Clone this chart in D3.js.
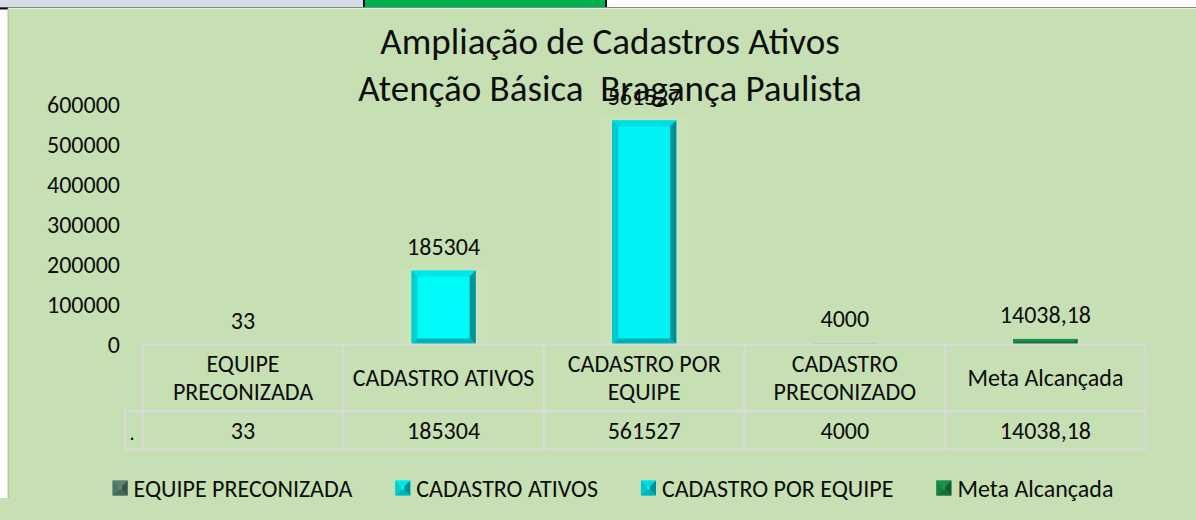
<!DOCTYPE html>
<html>
<head>
<meta charset="utf-8">
<script src="https://cdn.jsdelivr.net/npm/d3@7"></script>
<style>
  body { margin: 0; background: #fff; }
  svg { display: block; font-family: Carlito, Lato, sans-serif; }
</style>
</head>
<body>
<svg id="chart" width="1196" height="520"></svg>
<script>
// chart data
const titleLines = ["Ampliação de Cadastros Ativos", "Atenção Básica  Bragança Paulista"]
const categories = ["EQUIPE PRECONIZADA", "CADASTRO ATIVOS", "CADASTRO POR EQUIPE", "CADASTRO PRECONIZADO", "Meta Alcançada"]
const headerLines = [["EQUIPE", "PRECONIZADA"], ["CADASTRO ATIVOS"], ["CADASTRO POR", "EQUIPE"], ["CADASTRO", "PRECONIZADO"], ["Meta Alcançada"]]
const values = [33, 185304, 561527, 4000, 14038.18]
const yTicks = [0, 100000, 200000, 300000, 400000, 500000, 600000]
const legendItems = ["EQUIPE PRECONIZADA", "CADASTRO ATIVOS", "CADASTRO POR EQUIPE", "Meta Alcançada"]
const rowLabel = "."

const barColors = {
  "EQUIPE PRECONIZADA": "#5e8f7c",
  "CADASTRO ATIVOS": "#00fafa",
  "CADASTRO POR EQUIPE": "#00f2f6",
  "CADASTRO PRECONIZADO": "#9fe6d4",
  "Meta Alcançada": "#1f9d52"
}

const fontSize = 24
const svg = d3.select('#chart')
const ptBR = d3.formatLocale({ decimal: ",", thousands: ".", grouping: [3], currency: ["R$", ""] })
const fmt = ptBR.format("")

// page bits around the chart (spreadsheet strip at the top)
svg.append('rect').attr('x', 0).attr('y', 0).attr('width', 1196).attr('height', 520).attr('fill', '#fff')
svg.append('rect').attr('x', 0).attr('y', 0).attr('width', 364).attr('height', 7.5).attr('fill', '#d6dce4')
svg.append('rect').attr('x', 365).attr('y', 0).attr('width', 240).attr('height', 7.5).attr('fill', '#00b050')
svg.append('line').attr('x1', 364).attr('x2', 364).attr('y1', 0).attr('y2', 8).attr('stroke', '#111').attr('stroke-width', 2)
svg.append('line').attr('x1', 606).attr('x2', 606).attr('y1', 0).attr('y2', 8).attr('stroke', '#111').attr('stroke-width', 2)
svg.append('line').attr('x1', 0).attr('x2', 1196).attr('y1', 7.5).attr('y2', 7.5).attr('stroke', '#7f8a80').attr('stroke-width', 1.2)
svg.append('line').attr('x1', 0).attr('x2', 8).attr('y1', 8.5).attr('y2', 8.5).attr('stroke', '#111').attr('stroke-width', 2)

// chart area
svg.append('rect').attr('x', 7.5).attr('y', 8.5).attr('width', 1189).attr('height', 512).attr('fill', '#c6e0b4')
svg.append('rect').attr('x', 0).attr('y', 498).attr('width', 8).attr('height', 22).attr('fill', '#c6e0b4')
svg.append('line').attr('x1', 8.5).attr('x2', 8.5).attr('y1', 9).attr('y2', 498).attr('stroke', '#b3cfa2').attr('stroke-width', 1.5)

// title
svg.append('g').selectAll('text').data(titleLines).enter().append('text')
  .attr('x', 610)
  .attr('y', (d, i) => 41 + i * 47)
  .attr('text-anchor', 'middle')
  .attr('dominant-baseline', 'central')
  .style('white-space', 'pre')
  .attr('font-size', 37)
  .attr('fill', '#0d0d0d')
  .text(d => d)

// scales
const xScale = d3.scaleBand().domain(categories).range([142.7, 1145.7]).padding(0)
const yScale = d3.scaleLinear().domain([0, 600000]).range([344.5, 105])
const barWidth = xScale.bandwidth() * 0.32

// y axis labels
const yAxis = d3.axisLeft(yScale).tickValues(yTicks).tickSize(0).tickPadding(0).tickFormat(d3.format("d"))
const yg = svg.append('g').attr('transform', 'translate(120,0)').call(yAxis)
yg.select('.domain').remove()
yg.selectAll('text').attr('font-size', fontSize).attr('font-family', 'Carlito, Lato, sans-serif').attr('fill', '#0d0d0d')

// bevelled bar, like the office "bevel" effect
const shade = (c, k) => d3.color(c).darker(k).formatHex()
let drawBar = (g, x0, x1, y0, y1, color) => {
  const h = y1 - y0, w = x1 - x0
  const b = Math.min(6, h / 2, w / 2)
  g.append('rect').attr('x', x0).attr('y', y0).attr('width', w).attr('height', h).attr('fill', color)
  if (b <= 0.3) return
  const poly = (pts, fill) => g.append('polygon').attr('points', pts.map(p => p.join(',')).join(' ')).attr('fill', fill)
  poly([[x0, y0], [x1, y0], [x1 - b, y0 + b], [x0 + b, y0 + b]], shade(color, 0.25))
  poly([[x0, y1], [x1, y1], [x1 - b, y1 - b], [x0 + b, y1 - b]], shade(color, 0.9))
  poly([[x0, y0], [x0 + b, y0 + b], [x0 + b, y1 - b], [x0, y1]], shade(color, 0.55))
  poly([[x1, y0], [x1 - b, y0 + b], [x1 - b, y1 - b], [x1, y1]], shade(color, 1.5))
}

// bars
const bars = svg.append('g').attr('class', 'bars')
categories.forEach((c, i) => {
  const cx = xScale(c) + xScale.bandwidth() / 2
  const g = bars.append('g')
  // faint glow next to the bar
  g.append('rect')
    .attr('x', cx - barWidth / 2 - 12).attr('y', yScale(values[i]) - 2)
    .attr('width', barWidth + 24).attr('height', yScale(0) - yScale(values[i]) + 2)
    .attr('fill', '#d2e8c4').attr('opacity', yScale(0) - yScale(values[i]) > 10 ? 0.3 : 0)
  drawBar(g, cx - barWidth / 2, cx + barWidth / 2, yScale(values[i]), yScale(0), barColors[c])
})

// data labels
svg.append('g').selectAll('text').data(values).enter().append('text')
  .attr('x', (d, i) => xScale(categories[i]) + xScale.bandwidth() / 2)
  .attr('y', d => yScale(d) - 24)
  .attr('text-anchor', 'middle')
  .attr('dominant-baseline', 'central')
  .attr('font-size', fontSize)
  .attr('fill', '#0d0d0d')
  .text(d => fmt(d))

// data table under the axis
const tbl = svg.append('g').attr('class', 'table')
const tTop = yScale(0), tMid = 411, tBot = 449
const tx0 = xScale.range()[0], tx1 = xScale.range()[1]
const gridStroke = '#dadada'
tbl.append('line').attr('x1', tx0).attr('x2', tx1).attr('y1', tTop).attr('y2', tTop)
tbl.append('line').attr('x1', 125).attr('x2', tx1).attr('y1', tMid).attr('y2', tMid)
tbl.append('line').attr('x1', 125).attr('x2', tx1).attr('y1', tBot).attr('y2', tBot)
tbl.append('line').attr('x1', 125).attr('x2', 125).attr('y1', tMid).attr('y2', tBot)
tbl.selectAll('.vline').data(categories.concat(['end'])).enter().append('line')
  .attr('class', 'vline')
  .attr('x1', d => d === 'end' ? tx1 : xScale(d))
  .attr('x2', d => d === 'end' ? tx1 : xScale(d))
  .attr('y1', tTop).attr('y2', tBot)
tbl.selectAll('line').attr('stroke', gridStroke).attr('stroke-width', 2)

headerLines.forEach((lines, i) => {
  const cx = xScale(categories[i]) + xScale.bandwidth() / 2
  lines.forEach((t, j) => {
    tbl.append('text')
      .attr('x', cx)
      .attr('y', (tTop + tMid) / 2 + (j - (lines.length - 1) / 2) * 28.4)
      .attr('text-anchor', 'middle')
      .attr('dominant-baseline', 'central')
      .attr('font-size', fontSize)
      .attr('fill', '#0d0d0d')
      .text(t)
  })
})
tbl.selectAll('.val').data(values).enter().append('text')
  .attr('class', 'val')
  .attr('x', (d, i) => xScale(categories[i]) + xScale.bandwidth() / 2)
  .attr('y', (tMid + tBot) / 2)
  .attr('text-anchor', 'middle')
  .attr('dominant-baseline', 'central')
  .attr('font-size', fontSize)
  .attr('fill', '#0d0d0d')
  .text(d => fmt(d))
tbl.append('text').attr('x', 132).attr('y', 433).attr('text-anchor', 'middle')
  .attr('dominant-baseline', 'central').attr('font-size', 20).attr('fill', '#0d0d0d').text(rowLabel)

// legend
const legend = svg.append('g').attr('class', 'legend')
const items = legend.selectAll('g').data(legendItems).enter().append('g')
items.append('text')
  .attr('x', 21)
  .attr('y', 0)
  .attr('dominant-baseline', 'central')
  .attr('font-size', fontSize)
  .attr('fill', '#0d0d0d')
  .text(d => d)
let widths = []
items.select('text').each(function () { widths.push(this.getComputedTextLength() + 21) })
const gap = 43
const total = d3.sum(widths) + gap * (widths.length - 1)
let cursor = 613 - total / 2
items.each(function (d, i) {
  const g = d3.select(this).attr('transform', `translate(${cursor},488)`)
  drawBar(g, 0, 15, -7.5, 7.5, barColors[d])
  cursor += widths[i] + gap
})
</script>
</body>
</html>
